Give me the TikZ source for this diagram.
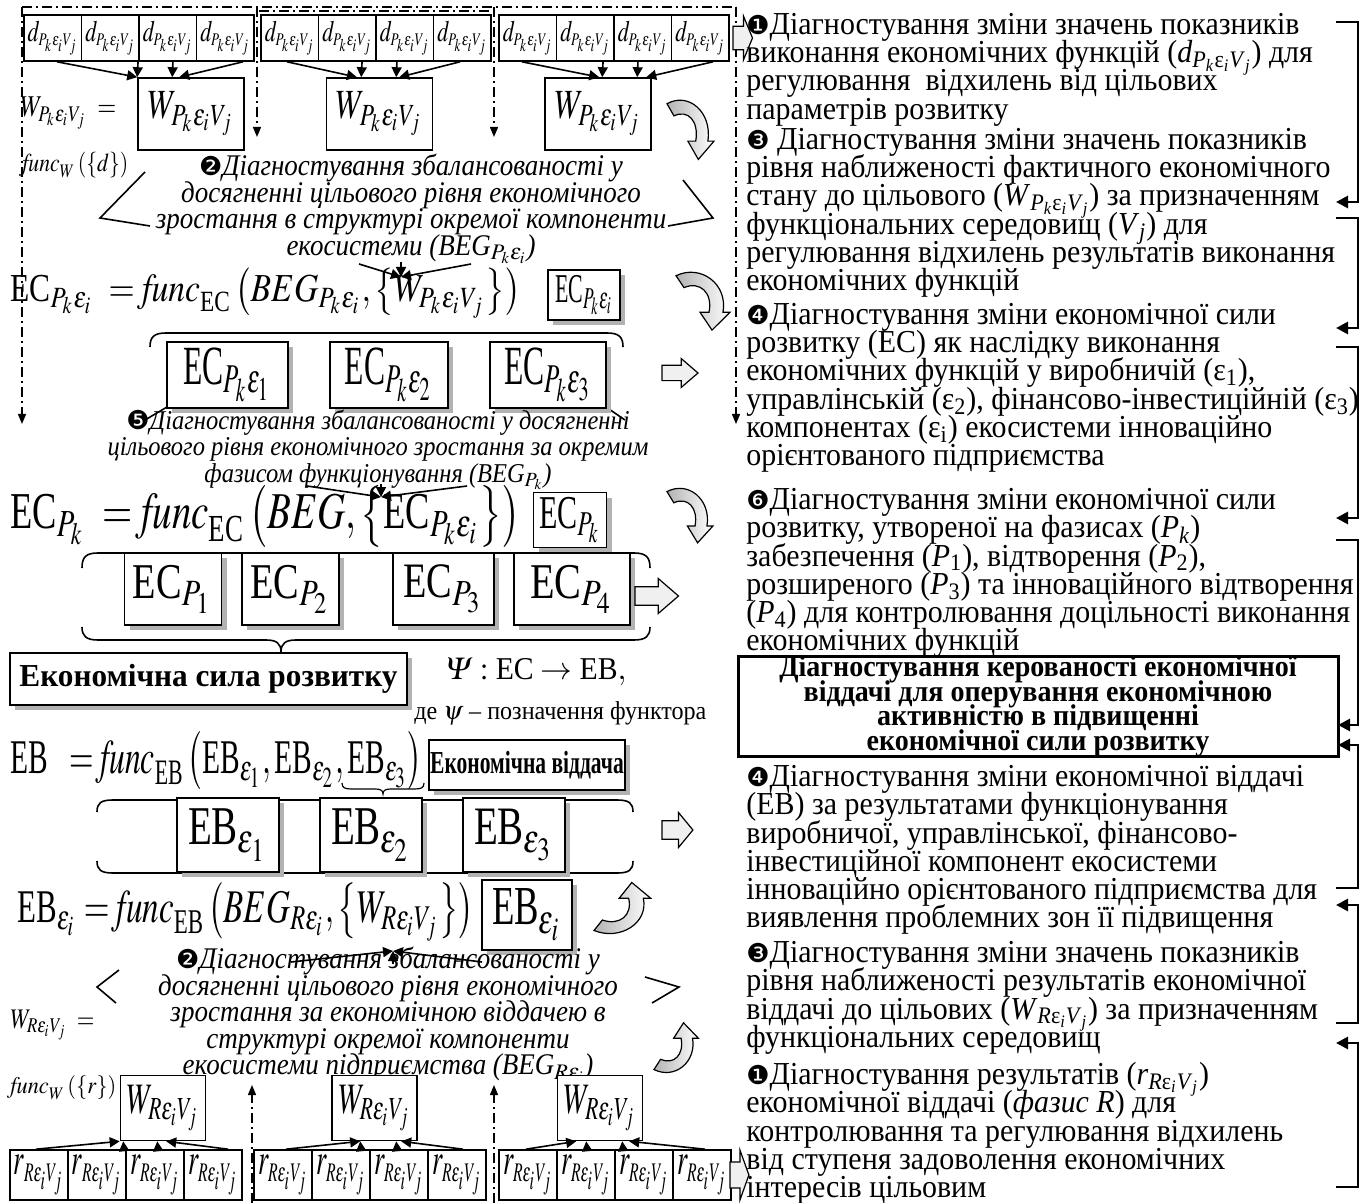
\documentclass[tikz,border=0pt]{standalone}
\usepackage{amsmath}
\usepackage{mathptmx}
\usepackage{graphicx}
\usepackage{fontspec}
\setmainfont{Liberation Serif}[FakeStretch=0.935]
\newfontfamily\capfont{Liberation Serif}[FakeStretch=0.9]
\newfontfamily\dvfont{DejaVu Sans}
\usetikzlibrary{arrows.meta,shadows,calc}
\newcommand\numb[1]{{\dvfont\fontsize{13}{12}\selectfont #1}}
\newcommand\fl{\rule{0pt}{12pt}}
\newcommand\subd{P_k\varepsilon_iV_j}
\newcommand\subr{R\varepsilon_iV_j}
\newcommand\tsubd{\textsubscript{\textit{P}\textsubscript{\textit{k}}ε\textsubscript{\textit{i}}\textit{V}\textsubscript{\textit{j}}}}
\newcommand\tsubr{\textsubscript{\textit{R}ε\textsubscript{\textit{i}}\textit{V}\textsubscript{\textit{j}}}}
\newcommand\ecT{\text{ЕС}}
\newcommand\ebT{\text{ЕВ}}
\newcommand\funcT{\mathit{func}}
\newcommand\dcell{\resizebox*{25pt}{17pt}{$d_{\scriptscriptstyle\subd}$}}
\newcommand\rcell{\resizebox*{25pt}{20pt}{$r_{\scriptscriptstyle\subr}$}}
\begin{document}
\lineskiplimit=-30pt
\begin{tikzpicture}[x=0.5pt,y=-0.5pt,
  bx/.style={draw, line width=0.8pt, inner sep=0pt, fill=white},
  sbx/.style={bx, drop shadow={shadow xshift=2.5pt, shadow yshift=-2.5pt, fill=gray!60, opacity=1}},
  arr/.style={-{Triangle[length=5pt,width=5pt]}, line width=0.8pt},
  dd/.style={line width=0.7pt, dash pattern=on 5pt off 2pt on 1pt off 2pt},
  ddarr/.style={dd, -{Triangle[length=5pt,width=4pt]}},
  brk/.style={line width=1.4pt, -{Triangle[length=6pt,width=6pt]}},
  ln/.style={line width=0.8pt},
  rt/.style={anchor=north west, align=left, inner sep=0pt, font=\fontsize{16}{14.15}\selectfont},
  captA/.style={align=center, inner sep=0pt, font=\capfont\itshape\fontsize{15}{13.3}\selectfont},
  captB/.style={align=center, inner sep=0pt, font=\capfont\itshape\fontsize{13.6}{13.1}\selectfont},
  frm/.style={anchor=west, inner sep=0pt},
  curvarr/.pic={\path[draw, line width=0.6pt, left color=gray!60, right color=white]
     (0,2) .. controls (25,-12) and (52,12) .. (47,45) -- (54,45) -- (36,66) -- (24,45) -- (33,45)
     .. controls (37,22) and (24,8) .. (8,16) -- cycle;},
  blkarr/.pic={\path[draw, line width=0.6pt, fill=gray!12]
     (0,-9) -- (16,-9) -- (16,-17) -- (30,0) -- (16,17) -- (16,9) -- (0,9) -- cycle;}
]
\useasboundingbox (0,0) rectangle (1370,1203);

% ---------- dash-dot frame ----------
\draw[dd] (22,7) -- (736,7);
\draw[dd] (259,11) -- (493,11);
\coordinate (lfa) at (22,424);
\coordinate (rfa) at (736,424);
\coordinate (m1a) at (257,137);
\coordinate (m2a) at (494,137);
\draw[ddarr] (22,7) -- (lfa);
\draw[ddarr] (736,7) -- (rfa);
\draw[ddarr] (257,7) -- (m1a);
\draw[ddarr] (494,7) -- (m2a);
\coordinate (b1a) at (252,1085);
\coordinate (b2a) at (494,1085);
\draw[ddarr] (252,1203) -- (b1a);
\draw[ddarr] (494,1203) -- (b2a);

% ---------- top d cells and W boxes ----------
\foreach \g/\xo in {1/24,2/261,3/499}{
  \foreach \c in {1,...,4}{
    \node[bx, minimum width=28.75pt, minimum height=23pt] (d\g\c) at ({\xo+57.5*(\c-0.5)},38) {\dcell};
  }
}
\node[bx, minimum width=53pt, minimum height=36pt] (WP1) at (191,114) {\resizebox*{43pt}{22pt}{$W_{\subd}$}};
\node[bx, minimum width=53pt, minimum height=36pt] (WP2) at (379.5,114) {\resizebox*{43pt}{22pt}{$W_{\subd}$}};
\node[bx, minimum width=53pt, minimum height=36pt] (WP3) at (598,114) {\resizebox*{43pt}{22pt}{$W_{\subd}$}};

\draw[arr] ([xshift=2.1pt]d11.south) -- (WP1.north west);
\draw[arr] ([xshift=13.9pt]d12.south) -- ([xshift=0pt]WP1.north west);
\draw[arr] ([xshift=2.6pt]d13.south) -- ([xshift=17.5pt]WP1.north west);
\draw[arr] ([xshift=8.9pt]d14.south) -- ([xshift=21pt]WP1.north west);
\draw[arr] ([xshift=-1.4pt]d21.south) -- ([xshift=15.6pt]WP2.north west);
\draw[arr] ([xshift=7.4pt]d22.south) -- ([xshift=17.75pt]WP2.north west);
\draw[arr] ([xshift=-3.9pt]d23.south) -- ([xshift=35.25pt]WP2.north west);
\draw[arr] ([xshift=-1.1pt]d24.south) -- ([xshift=36.75pt]WP2.north west);
\draw[arr] ([xshift=-2.9pt]d31.south) -- ([xshift=27.5pt]WP3.north west);
\draw[arr] ([xshift=8.9pt]d32.south) -- ([xshift=29pt]WP3.north west);
\draw[arr] ([xshift=-2.4pt]d33.south) -- ([xshift=46.5pt]WP3.north west);
\draw[arr] ([xshift=6.4pt]d34.south) -- ([xshift=51pt]WP3.north west);

\node[frm] (wdef) at (20,113) {\resizebox*{48pt}{16pt}{$W_{\subd}\;=$}};
\node[frm] (wfun) at (22,165) {\resizebox*{53pt}{13pt}{$\funcT_W\left(\left\{d\right\}\right)$}};

\pic[scale=0.87] at (667,102) {curvarr};
\pic[xscale=0.65, yscale=1.3] at (733,38) {blkarr};

% ---------- caption 2 (top) ----------
\draw[ln] (145,172) -- (100,218) -- (150,226);
\draw[ln] (683,180) -- (713,218) -- (668,226);
\node[captA, fill=white] (cap2) at (411,209) {\numb{❷}Діагностування збалансованості у\\
досягненні цільового рівня економічного\\
зростання в структурі окремої компоненти\\
екосистеми (\textit{BEG}\textsubscript{$P_k\varepsilon_i$})};

% ---------- EC_Pk eps_i row ----------
\node[frm] (fec1) at (10,293) {\resizebox*{255pt}{25pt}{$\ecT_{P_k\varepsilon_i}\; = \funcT_{\ecT}\left(BEG_{P_k\varepsilon_i},\left\{W_{\subd}\right\}\right)$}};
\coordinate (cv1) at (401,277);
\draw[arr] (359,264) -- (cv1);
\draw[arr] (471,264) -- (cv1);
\draw[arr] (401,262) -- (cv1);
\node[sbx, minimum width=36pt, minimum height=25pt] (ecs) at (584,295) {\resizebox*{29pt}{20pt}{$\ecT_{P_k\varepsilon_i}$}};
\pic[xscale=1.0, yscale=0.85] at (676,274) {curvarr};

\draw[ln] (150,347) .. controls (150,337) and (154,333) .. (166,333) -- (607,333) .. controls (619,333) and (623,337) .. (623,347);
\draw[ln] (145,420) -- (167,407);
\draw[ln] (606,407) -- (625,420);
\node[sbx, minimum width=60.5pt, minimum height=33pt] (ece1) at (227.5,375) {\resizebox*{44pt}{27pt}{$\ecT_{P_k\varepsilon_1}$}};
\node[sbx, minimum width=59pt, minimum height=33pt] (ece2) at (389,375) {\resizebox*{44pt}{27pt}{$\ecT_{P_k\varepsilon_2}$}};
\node[sbx, minimum width=58pt, minimum height=33pt] (ece3) at (548,375) {\resizebox*{44pt}{27pt}{$\ecT_{P_k\varepsilon_3}$}};
\pic[xscale=1.2, yscale=0.85] at (662,373) {blkarr};

% ---------- caption 5 ----------
\node[captB] (cap5) at (378,450) {\numb{❺}Діагностування збалансованості у досягненні\\
цільового рівня економічного зростання за окремим\\
фазисом функціонування (\textit{BEG}\textsubscript{$P_k$})};

% ---------- EC_Pk row ----------
\coordinate (cv2) at (381,497);
\draw[arr] (307,486) -- (cv2);
\draw[arr] (467,486) -- (cv2);
\draw[arr] (381,484) -- (cv2);
\node[frm] (fec2) at (10,516) {\resizebox*{255pt}{31pt}{$\ecT_{P_k}\; = \funcT_{\ecT}\left(BEG,\left\{\ecT_{P_k\varepsilon_i}\right\}\right)$}};
\node[sbx, minimum width=36.5pt, minimum height=27.5pt] (ecp) at (570,520) {\resizebox*{31pt}{23pt}{$\ecT_{P_k}$}};
\pic[xscale=0.85, yscale=0.8] at (667,490) {curvarr};

\draw[ln] (82,568) .. controls (82,557) and (86,553) .. (98,553) -- (634,553) .. controls (646,553) and (650,557) .. (650,568);
\draw[ln] (82,627) .. controls (82,636) and (86,640) .. (98,640) -- (266,640) .. controls (276,640) and (281,643) .. (281,652)
   .. controls (281,643) and (286,640) .. (296,640) -- (634,640) .. controls (646,640) and (650,636) .. (650,627);
\node[sbx, minimum width=48.5pt, minimum height=36pt] (ecp1) at (173,589) {\resizebox*{40pt}{24pt}{$\ecT_{P_1}$}};
\node[sbx, minimum width=48.5pt, minimum height=36pt] (ecp2) at (290.5,589) {\resizebox*{40pt}{24pt}{$\ecT_{P_2}$}};
\node[sbx, minimum width=50.5pt, minimum height=36pt] (ecp3) at (443.5,589) {\resizebox*{40pt}{24pt}{$\ecT_{P_3}$}};
\node[sbx, minimum width=58pt, minimum height=36pt] (ecp4) at (572,589) {\resizebox*{42pt}{24pt}{$\ecT_{P_4}$}};
\pic[xscale=1.45, yscale=1.03] at (635,596) {blkarr};

% ---------- economic power ----------
\node[sbx, minimum width=198.5pt, minimum height=26pt, font=\bfseries\fontsize{16}{16}\selectfont] (esr) at (208.5,679) {\scalebox{1.045}[1]{Економічна сила розвитку}};
\node[frm] (psi) at (446,672) {\resizebox{90pt}{!}{$\varPsi:\ecT\rightarrow\ebT,$}};
\node[frm] (psinote) at (414,713) {\resizebox{146pt}{!}{де $\psi$ – позначення функтора}};

% ---------- EB row ----------
\node[frm] (feb) at (10,761) {\resizebox*{206pt}{29pt}{$\ebT\;\; = \funcT_{\ebT}\left(\ebT_{\varepsilon_1},\ebT_{\varepsilon_2},\ebT_{\varepsilon_3}\right)$}};
\draw[line width=0.6pt] (342,783) .. controls (342,788) and (345,789) .. (352,789) -- (375,789) .. controls (380,789) and (383,790) .. (383,794)
   .. controls (383,790) and (386,789) .. (391,789) -- (414,789) .. controls (421,789) and (424,788) .. (424,783);
\node[sbx, minimum width=98pt, minimum height=25pt, font=\bfseries\fontsize{16}{16}\selectfont] (evd) at (527,765) {\scalebox{0.72}[1]{Економічна віддача}};

\draw[ln] (97,812) .. controls (97,803) and (101,800) .. (113,800) -- (617,800) .. controls (629,800) and (633,803) .. (633,812);
\draw[ln] (97,861) .. controls (97,870) and (101,873) .. (113,873) -- (617,873) .. controls (629,873) and (633,870) .. (633,861);
\node[sbx, minimum width=51pt, minimum height=37pt] (eb1) at (228,835) {\resizebox*{40pt}{26pt}{$\ebT_{\varepsilon_1}$}};
\node[sbx, minimum width=51pt, minimum height=37pt] (eb2) at (371,835) {\resizebox*{40pt}{26pt}{$\ebT_{\varepsilon_2}$}};
\node[sbx, minimum width=51pt, minimum height=37pt] (eb3) at (514,835) {\resizebox*{40pt}{26pt}{$\ebT_{\varepsilon_3}$}};
\pic[xscale=1.03, yscale=1.03] at (662,830) {blkarr};

% ---------- EB eps_i row ----------
\node[frm] (feb2) at (17,912) {\resizebox*{228pt}{29.5pt}{$\ebT_{\varepsilon_i} = \funcT_{\ebT}\left(BEG_{R\varepsilon_i},\left\{W_{\subr}\right\}\right)$}};
\node[sbx, minimum width=45pt, minimum height=35pt] (ebi) at (527,915) {\resizebox*{35pt}{26pt}{$\ebT_{\varepsilon_i}$}};
\pic[xscale=1.05, yscale=-0.75] at (594,932) {curvarr};
\pic[xscale=0.82, yscale=-0.73] at (654,1071) {curvarr};

% ---------- caption 2 (bottom) ----------
\draw[ln] (119,970) -- (97,987) -- (116,1003);
\draw[ln] (645,977) -- (679,987) -- (652,1003);
\coordinate (cv3) at (393,951);
\draw[arr] (291,962) -- (cv3);
\draw[arr] (482,962) -- (cv3);
\draw[arr] (393,964) -- (cv3);
\node[captA] (cap2b) at (388,1015) {\numb{❷}Діагностування збалансованості у\\
досягненні цільового рівня економічного\\
зростання за економічною віддачею в\\
структурі окремої компоненти\\
екосистеми підприємства (\textit{BEG}\textsubscript{$R\varepsilon_i$})};

\node[frm] (wrdef) at (10,1025) {\resizebox*{42pt}{15pt}{$W_{\subr}\;=$}};
\node[frm] (wrfun) at (10,1088) {\resizebox*{53pt}{12pt}{$\funcT_W\left(\left\{r\right\}\right)$}};

% ---------- bottom W_R and r ----------
\node[bx, minimum width=42.5pt, minimum height=32.5pt] (WR1) at (163,1108) {\resizebox*{36pt}{23pt}{$W_{\subr}$}};
\node[bx, minimum width=42.5pt, minimum height=32.5pt] (WR2) at (374.5,1108) {\resizebox*{36pt}{23pt}{$W_{\subr}$}};
\node[bx, minimum width=42.5pt, minimum height=32.5pt] (WR3) at (600,1108) {\resizebox*{36pt}{23pt}{$W_{\subr}$}};
\foreach \g/\xo in {1/10,2/254,3/499}{
  \foreach \c in {1,...,4}{
    \node[bx, minimum width=29pt, minimum height=25pt] (r\g\c) at ({\xo+58*(\c-0.5)},1175) {\rcell};
  }
}
\draw[arr] ([xshift=-1.5pt]r11.north) -- (WR1.south west);
\draw[arr] ([xshift=13.5pt]r12.north) -- ([xshift=1.75pt]WR1.south west);
\draw[arr] ([xshift=1.5pt]r13.north) -- ([xshift=18.75pt]WR1.south west);
\draw[arr] ([xshift=7.5pt]r14.north) -- ([xshift=23.25pt]WR1.south west);
\draw[arr] ([xshift=1.5pt]r21.north) -- ([xshift=14.5pt]WR2.south west);
\draw[arr] ([xshift=10pt]r22.north) -- ([xshift=14.5pt]WR2.south west);
\draw[arr] ([xshift=-1pt]r23.north) -- ([xshift=32.5pt]WR2.south west);
\draw[arr] ([xshift=3pt]r24.north) -- ([xshift=35pt]WR2.south west);
\draw[arr] ([xshift=-1pt]r31.north) -- ([xshift=9.75pt]WR3.south west);
\draw[arr] ([xshift=0.5pt]r32.north) -- ([xshift=14.75pt]WR3.south west);
\draw[arr] ([xshift=-10.5pt]r33.north) -- ([xshift=32.75pt]WR3.south west);
\draw[arr] ([xshift=1.5pt]r34.north) -- ([xshift=36.25pt]WR3.south west);
\pic[xscale=0.63, yscale=1.45] at (730,1175) {blkarr};

% ---------- right column ----------
\node[rt] (t1) at (746,10) {\fl\numb{❶}Діагностування зміни значень показників\\
виконання економічних функцій (\textit{d}\tsubd) для\\
регулювання \ відхилень від цільових\\
параметрів розвитку};
\node[rt] (t3) at (746,125) {\fl\numb{❸} Діагностування зміни значень показників\\
рівня наближеності фактичного економічного\\
стану до цільового (\textit{W}\tsubd) за призначенням\\
функціональних середовищ (\textit{V}\textsubscript{\textit{j}}) для\\
регулювання відхилень результатів виконання\\
економічних функцій};
\node[rt] (t4) at (746,300) {\fl\numb{❹}Діагностування зміни економічної сили\\
розвитку (ЕС) як наслідку виконання\\
економічних функцій у виробничій (ε\textsubscript{1}),\\
управлінській (ε\textsubscript{2}), фінансово-інвестиційній (ε\textsubscript{3})\\
компонентах (ε\textsubscript{i}) екосистеми інноваційно\\
орієнтованого підприємства};
\node[rt] (t6) at (746,485) {\fl\numb{❻}Діагностування зміни економічної сили\\
розвитку, утвореної на фазисах (\textit{P}\textsubscript{\textit{k}})\\
забезпечення (\textit{P}\textsubscript{1}), відтворення (\textit{P}\textsubscript{2}),\\
розширеного (\textit{P}\textsubscript{3}) та інноваційного відтворення\\
(\textit{P}\textsubscript{4}) для контролювання доцільності виконання\\
економічних функцій};
\node[draw, line width=1.5pt, minimum width=300pt, minimum height=48.5pt, inner sep=0pt, align=center,
      font=\bfseries\fontsize{15}{12.25}\selectfont] (keyb) at (1038,706.5) {Діагностування керованості економічної\\
віддачі для оперування економічною\\
активністю в підвищенні\\
економічної сили розвитку};
\node[rt] (t4b) at (746,762) {\fl\numb{❹}Діагностування зміни економічної віддачі\\
(ЕВ) за результатами функціонування\\
виробничої, управлінської, фінансово-\\
інвестиційної компонент екосистеми\\
інноваційно орієнтованого підприємства для\\
виявлення проблемних зон її підвищення};
\node[rt] (t3b) at (746,938) {\fl\numb{❸}Діагностування зміни значень показників\\
рівня наближеності результатів економічної\\
віддачі до цільових (\textit{W}\tsubr) за призначенням\\
функціональних середовищ};
\node[rt] (t1b) at (746,1060) {\fl\numb{❶}Діагностування результатів (\textit{r}\tsubr)\\
економічної віддачі (\textit{фазис R}) для\\
контролювання та регулювання відхилень\\
від ступеня задоволення економічних\\
інтересів цільовим};

% ---------- right brackets ----------
\coordinate (k1) at (1336,202);
\coordinate (k2) at (1336,328);
\coordinate (k3) at (1336,518);
\coordinate (k4) at (1338,725);
\coordinate (k5) at (1338,745);
\coordinate (k6) at (1336,905);
\coordinate (k7) at (1336,1043);
\draw[brk] (1336,22) -| (1358,202) -- (k1);
\draw[brk] (1336,218) -| (1358,328) -- (k2);
\draw[brk] (1336,347) -| (1358,518) -- (k3);
\draw[brk] (1336,540) -| (1358,725) -- (k4);
\draw[brk] (1336,888) -| (1358,745) -- (k5);
\draw[brk] (1336,1023) -| (1358,905) -- (k6);
\draw[brk] (1336,1187) -| (1358,1043) -- (k7);
\end{tikzpicture}
\end{document}
